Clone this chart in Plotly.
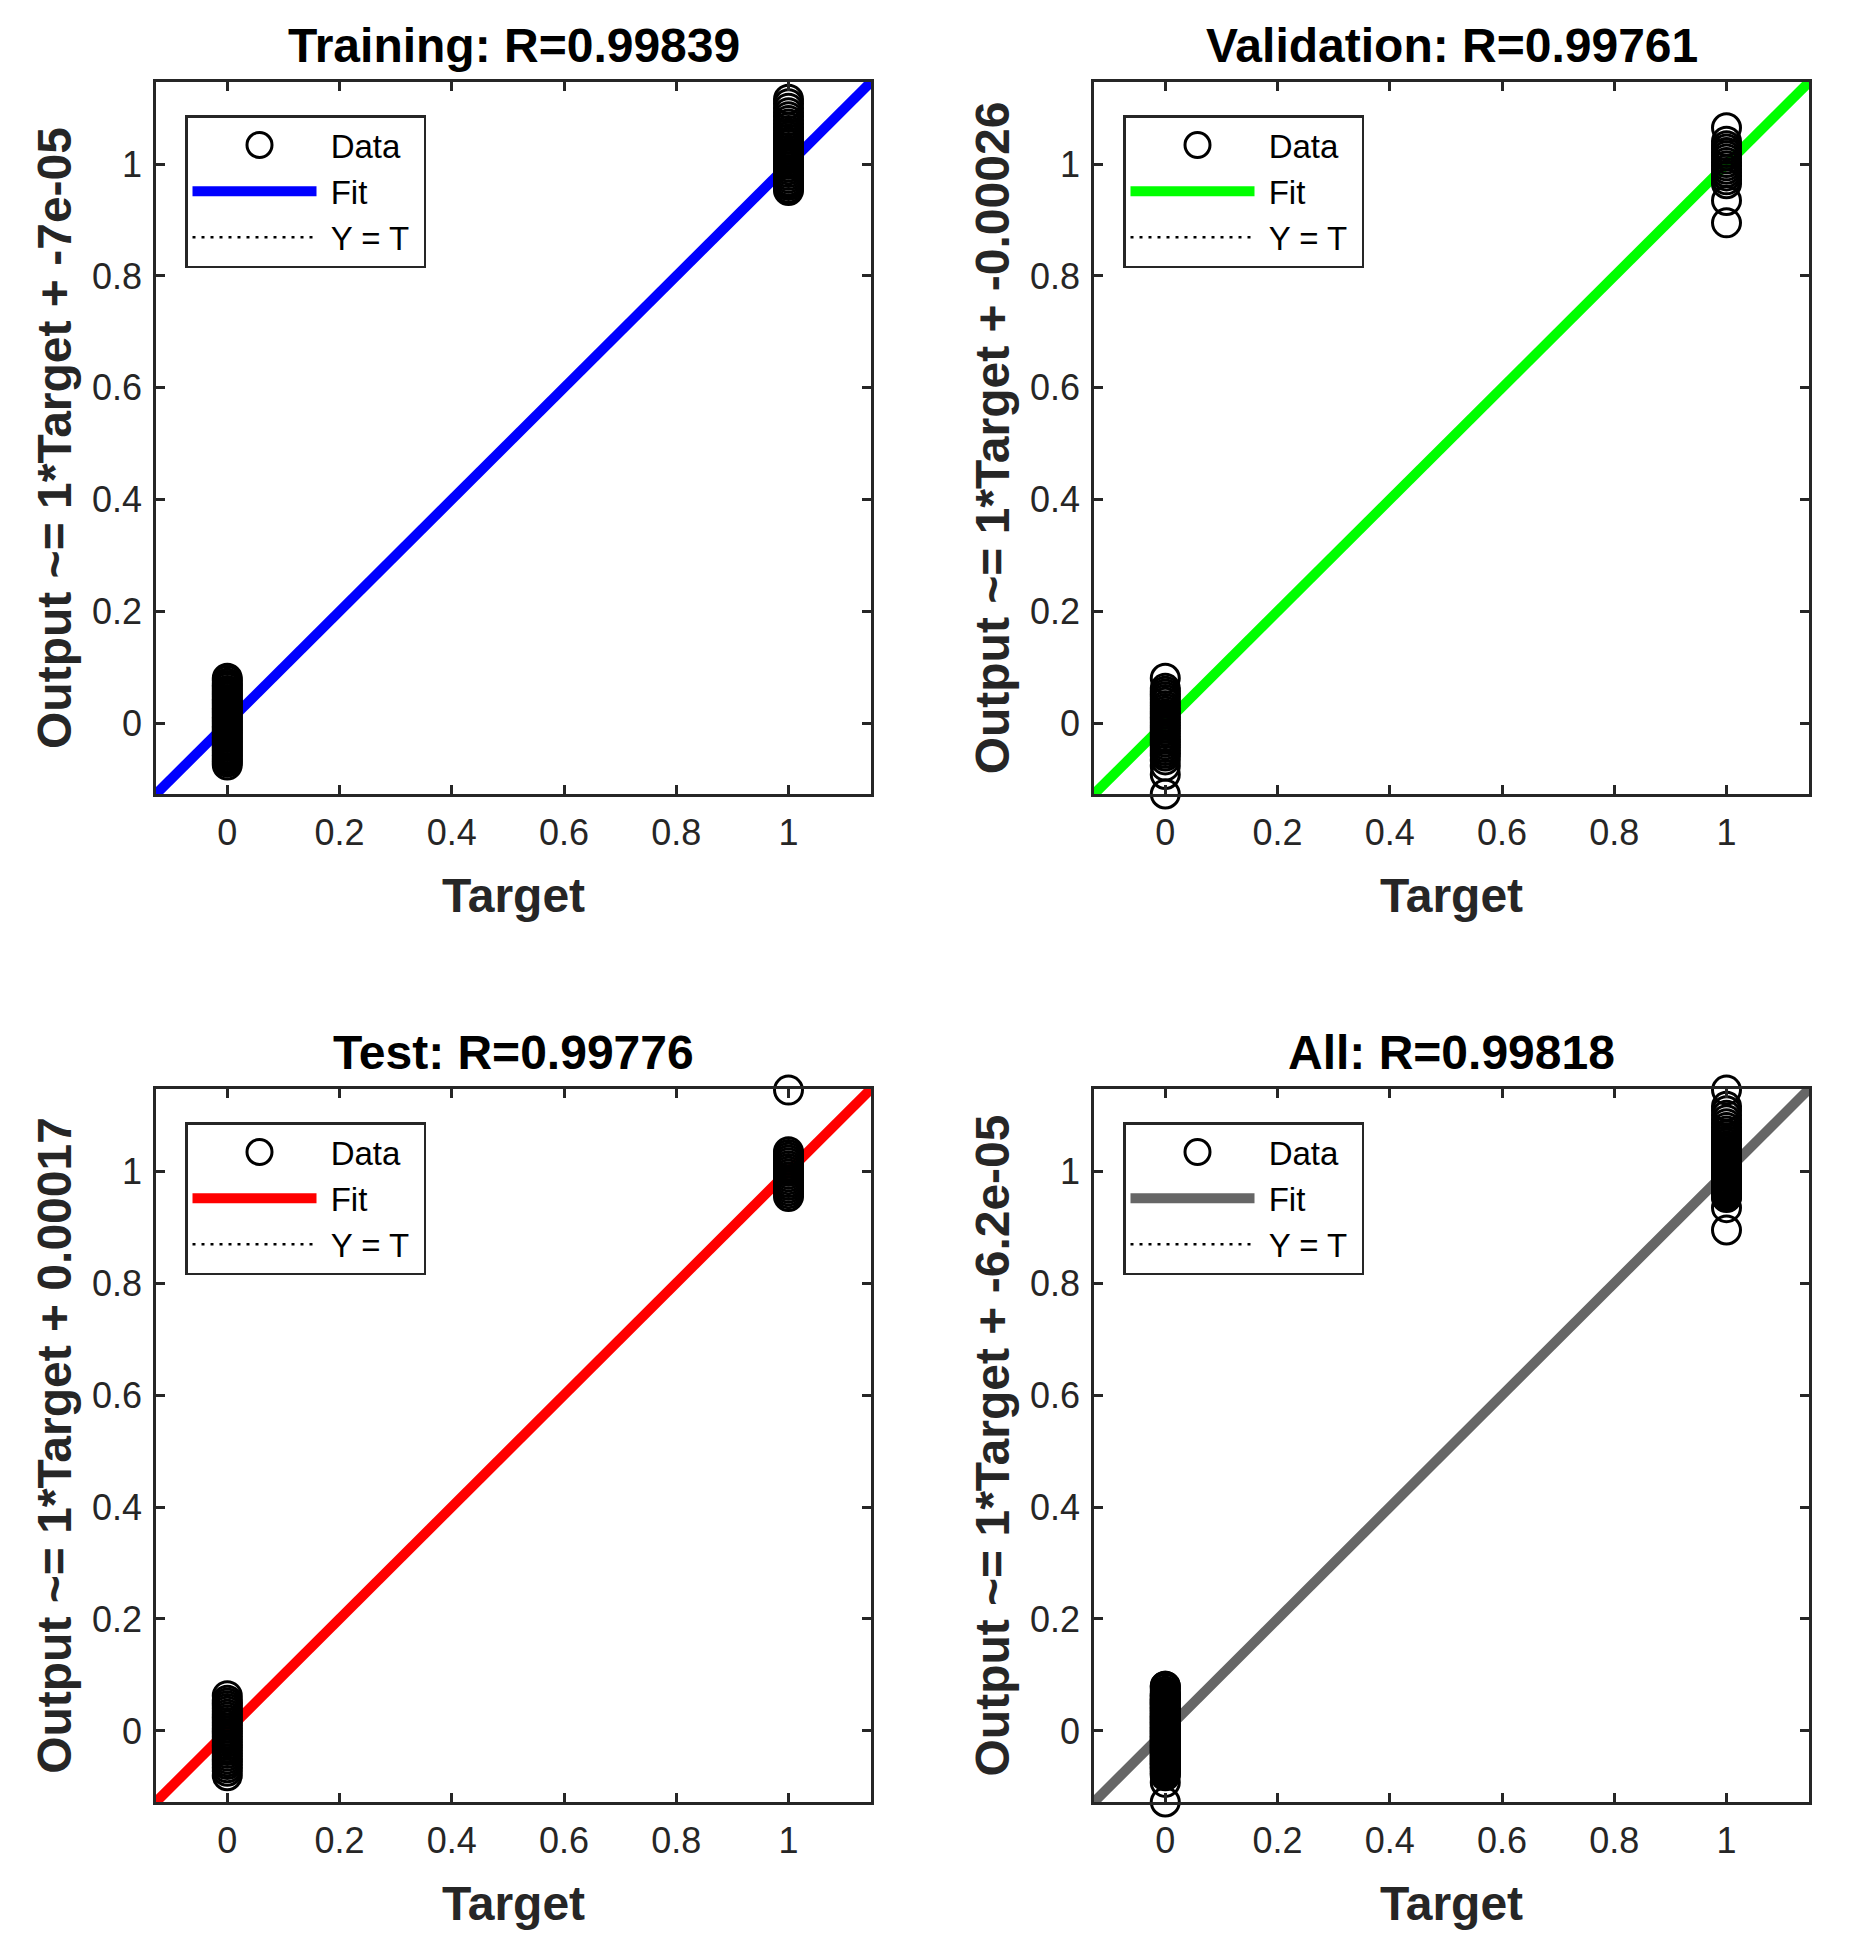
import numpy as np
import plotly.graph_objects as go
from plotly.subplots import make_subplots

# network outputs, grouped by target class (0 or 1)
train_out_t0 = [0.080, 0.076, 0.071, 0.067, 0.063, 0.058, 0.054, 0.050, 0.046, 0.042, 0.038,
                0.034, 0.030, 0.026, 0.022, 0.018, 0.014, 0.010, 0.006, 0.002, -0.002,
                -0.006, -0.010, -0.014, -0.018, -0.022, -0.026, -0.030, -0.034, -0.038,
                -0.042, -0.046, -0.050, -0.054, -0.058, -0.062, -0.066, -0.070, -0.075]
train_out_t1 = [1.116, 1.108, 1.100, 1.092, 1.085, 1.078, 1.072, 1.066, 1.060, 1.055, 1.050,
                1.045, 1.040, 1.035, 1.030, 1.025, 1.020, 1.015, 1.010, 1.005, 1.000,
                0.995, 0.990, 0.985, 0.980, 0.975, 0.970, 0.966, 0.962, 0.957, 0.953]
val_out_t0 = [0.080, 0.062, 0.057, 0.052, 0.047, 0.042, 0.037, 0.031, 0.026, 0.021, 0.016,
              0.011, 0.006, 0.001, -0.004, -0.009, -0.014, -0.019, -0.024, -0.029, -0.034,
              -0.039, -0.044, -0.049, -0.054, -0.059, -0.066, -0.077, -0.092, -0.127]
val_out_t1 = [1.065, 1.041, 1.033, 1.027, 1.021, 1.015, 1.009, 1.003, 0.997, 0.991, 0.985,
              0.979, 0.972, 0.965, 0.935, 0.895]
test_out_t0 = [0.063, 0.055, 0.050, 0.045, 0.040, 0.035, 0.030, 0.025, 0.020, 0.015, 0.010,
               0.005, 0.000, -0.005, -0.010, -0.015, -0.020, -0.025, -0.030, -0.035, -0.040,
               -0.045, -0.050, -0.055, -0.060, -0.066, -0.072, -0.080]
test_out_t1 = [1.145, 1.035, 1.030, 1.025, 1.020, 1.015, 1.010, 1.005, 1.000, 0.995, 0.990,
               0.985, 0.980, 0.975, 0.970, 0.965, 0.960, 0.955]

names = ["Training", "Validation", "Test", "All"]
r_values = ["0.99839", "0.99761", "0.99776", "0.99818"]
slopes = [1, 1, 1, 1]
intercepts = ["-7e-05", "-0.00026", "0.00017", "-6.2e-05"]
fit_colors = ["#0000ff", "#00ff00", "#ff0000", "#666666"]
tick_vals = [0, 0.2, 0.4, 0.6, 0.8, 1]
tick_text = ["0", "0.2", "0.4", "0.6", "0.8", "1"]
axis_lim = [-0.127, 1.147]

outputs = [
    (train_out_t0, train_out_t1),
    (val_out_t0, val_out_t1),
    (test_out_t0, test_out_t1),
    (train_out_t0 + val_out_t0 + test_out_t0, train_out_t1 + val_out_t1 + test_out_t1),
]

# the page body has an 8px margin, so the figure is 16px smaller than the window
PAD = 8
W, H = 1849 - 2 * PAD, 1954 - 2 * PAD
FONT = "Liberation Sans, Arial, sans-serif"
INK = "#262626"

# axes boxes in window pixels (left, right, top, bottom)
boxes = [(156, 871, 82, 794), (1094, 1809, 82, 794),
         (156, 871, 1089, 1802), (1094, 1809, 1089, 1802)]

ITEMW = 124
fig = make_subplots(rows=2, cols=2)

for i, name in enumerate(names):
    row, col = i // 2 + 1, i % 2 + 1
    leg = "legend" if i == 0 else f"legend{i + 1}"
    out0, out1 = outputs[i]
    targets = [0] * len(out0) + [1] * len(out1)
    outs = out0 + out1
    lim = np.array(axis_lim)
    b = float(intercepts[i])

    fig.add_trace(go.Scatter(x=lim, y=lim, mode="lines", name="\u00a0Y = T\u00a0",
                             line=dict(color="black", width=2.5, dash="3px,6px"),
                             legend=leg, legendrank=3), row=row, col=col)
    fig.add_trace(go.Scatter(x=lim, y=slopes[i] * lim + b, mode="lines", name="\u00a0Fit",
                             line=dict(color=fit_colors[i], width=10),
                             legend=leg, legendrank=2), row=row, col=col)
    fig.add_trace(go.Scatter(x=targets, y=outs, mode="markers", name="Data",
                             marker=dict(symbol="circle-open", size=28, color="black",
                                         line=dict(width=3, color="black")),
                             cliponaxis=False, showlegend=False), row=row, col=col)
    # legend entry for the data; its circle is drawn as a shape (legend markers are capped in size)
    fig.add_trace(go.Scatter(x=[None], y=[None], mode="markers", name="\u00a0Data",
                             marker=dict(color="rgba(0,0,0,0)", size=1),
                             legend=leg, legendrank=1), row=row, col=col)

    l, r, t, bt = [v - PAD for v in boxes[i]]
    ax_suffix = "" if i == 0 else str(i + 1)
    fig.layout["xaxis" + ax_suffix].domain = [l / W, r / W]
    fig.layout["yaxis" + ax_suffix].domain = [1 - bt / H, 1 - t / H]
    fig.layout["yaxis" + ax_suffix].title = dict(
        text=f"<b>Output ~= {slopes[i]}*Target + {intercepts[i]}</b>",
        font=dict(size=48, color=INK), standoff=6)

    fig.add_annotation(text=f"<b>{name}: R={r_values[i]}</b>", xref="paper", yref="paper",
                       x=(l + r) / 2 / W, y=1 - t / H, xanchor="center", yanchor="bottom",
                       yshift=8, showarrow=False, font=dict(size=48, color="black", family=FONT))

    lx, ly = (l + 29) / W, 1 - (t + 33) / H
    fig.layout[leg] = dict(x=lx, y=ly, xanchor="left", yanchor="top",
                           bgcolor="rgba(0,0,0,0)", bordercolor=INK, borderwidth=2.5,
                           font=dict(size=33, color="black", family=FONT),
                           itemwidth=ITEMW, tracegroupgap=0)
    cx, cy = 2.5 + (ITEMW + 10) / 2 + 5, -30
    fig.add_shape(type="circle", xref="paper", yref="paper", xsizemode="pixel",
                  ysizemode="pixel", xanchor=lx, yanchor=ly,
                  x0=cx - 12.5, x1=cx + 12.5, y0=cy - 12.5, y1=cy + 12.5,
                  line=dict(color="black", width=3), layer="above")

fig.update_xaxes(range=axis_lim, tickvals=tick_vals, ticktext=tick_text, ticks="inside",
                 ticklen=9, tickwidth=2.5, tickcolor=INK, showline=True, linecolor=INK,
                 linewidth=2.5, mirror="ticks", showgrid=False, zeroline=False,
                 tickfont=dict(size=36, color=INK), ticklabelstandoff=5,
                 title=dict(text="<b>Target</b>", font=dict(size=48, color=INK), standoff=27))
fig.update_yaxes(range=axis_lim, tickvals=tick_vals, ticktext=tick_text, ticks="inside",
                 ticklen=9, tickwidth=2.5, tickcolor=INK, showline=True, linecolor=INK,
                 linewidth=2.5, mirror="ticks", showgrid=False, zeroline=False,
                 tickfont=dict(size=36, color=INK), ticklabelstandoff=4)

fig.update_layout(width=W, height=H, margin=dict(l=0, r=0, t=0, b=0),
                  paper_bgcolor="white", plot_bgcolor="white",
                  font=dict(family=FONT, color=INK), showlegend=True)

fig.write_html("out.html")
